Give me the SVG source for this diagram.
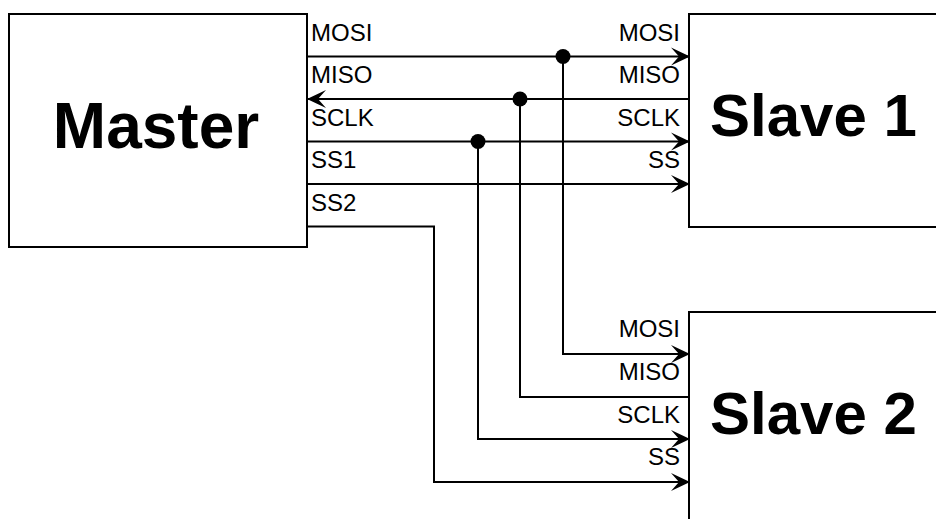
<svg xmlns="http://www.w3.org/2000/svg" width="936" height="519" viewBox="0 0 936 519">
<defs>
<style>
.box{fill:#fff;stroke:#000;stroke-width:2}
.big{font-family:"Liberation Sans",Arial,sans-serif;font-weight:bold;font-size:64px;fill:#000}
.sl{font-size:60px}
.lbl{font-family:"Liberation Sans",Arial,sans-serif;font-size:24px;fill:#000}
.r{text-anchor:end}
.w{fill:none;stroke:#000;stroke-width:2}
.arr{marker-end:url(#ah)}
.dot{fill:#000}
</style>
<marker id="ah" markerUnits="userSpaceOnUse" markerWidth="26" markerHeight="26" viewBox="-22 -13 26 26" refX="0" refY="0" orient="auto">
<path d="M1,0 L-18,-9 L-10,0 L-18,9 Z" fill="#000"/>
</marker>
</defs>
<rect width="936" height="519" fill="#fff"/>
<g id="master">
<rect class="box" x="9" y="14" width="298" height="233"/>
<text class="big" x="156" y="148" text-anchor="middle">Master</text>
<text class="lbl" x="311" y="40.5">MOSI</text>
<text class="lbl" x="311" y="83">MISO</text>
<text class="lbl" x="311" y="125.5">SCLK</text>
<text class="lbl" x="311" y="168">SS1</text>
<text class="lbl" x="311" y="210.5">SS2</text>
</g>
<g id="slave1">
<rect class="box" x="689" y="14" width="262" height="213"/>
<text class="big sl" x="710" y="136">Slave 1</text>
<text class="lbl r" x="680" y="40.5">MOSI</text>
<text class="lbl r" x="680" y="83">MISO</text>
<text class="lbl r" x="680" y="125.5">SCLK</text>
<text class="lbl r" x="680" y="168">SS</text>
</g>
<g id="slave2">
<rect class="box" x="689" y="312" width="262" height="220"/>
<text class="big sl" x="710" y="434">Slave 2</text>
<text class="lbl r" x="680" y="337">MOSI</text>
<text class="lbl r" x="680" y="380">MISO</text>
<text class="lbl r" x="680" y="422.5">SCLK</text>
<text class="lbl r" x="680" y="465">SS</text>
</g>
<g id="connectors">
<path class="w arr" d="M307,56.5 H689"/>
<path class="w arr" d="M689,99 H308"/>
<path class="w arr" d="M307,141.5 H689"/>
<path class="w arr" d="M307,184 H689"/>
<path class="w arr" d="M563,56.5 V354 H689"/>
<path class="w" d="M520,99 V397 H689"/>
<path class="w arr" d="M478,141.5 V439 H689"/>
<path class="w arr" d="M307,226.5 H434 V482 H689"/>
<circle class="dot" cx="563" cy="56.5" r="7.5"/>
<circle class="dot" cx="520" cy="99" r="7.5"/>
<circle class="dot" cx="478" cy="141.5" r="7.5"/>
</g>
</svg>
